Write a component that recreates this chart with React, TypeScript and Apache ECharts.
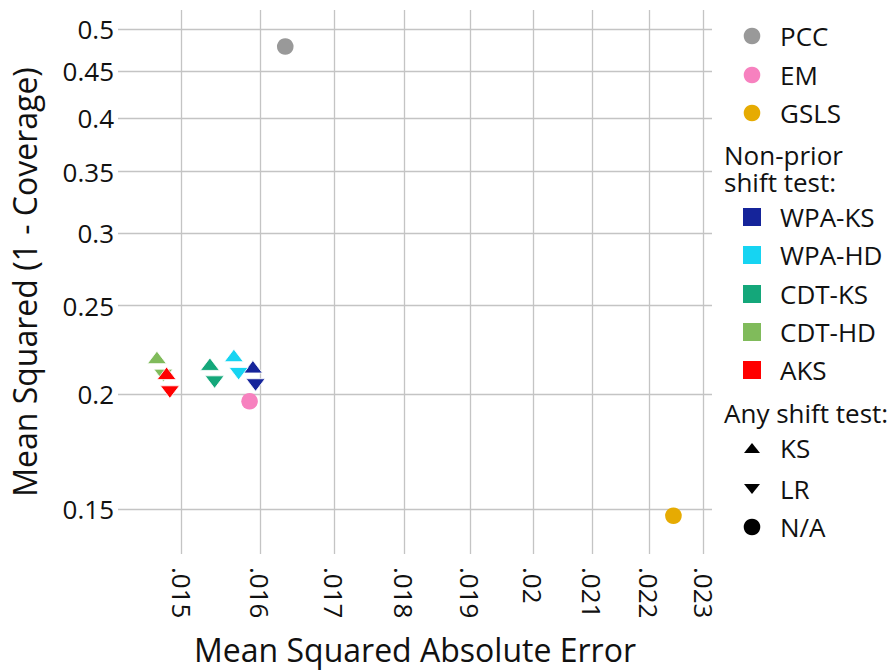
import { useEffect, useRef } from 'react';
import * as echarts from 'echarts';

// Baseline quantifiers (no shift test)
const baselineNames = ['PCC', 'EM', 'GSLS'];
const baselineColors = ['#999999', '#f781bf', '#e6ab02'];
const baselineMSAE = [0.01633, 0.01586, 0.02244];
const baselineMSC = [0.479, 0.1966, 0.1475];

// Non-prior shift tests, each paired with an "any shift" test (KS or LR)
const testNames = ['WPA-KS', 'WPA-HD', 'CDT-KS', 'CDT-HD', 'AKS'];
const testColors = ['#15249a', '#16d4f2', '#14a77a', '#80bb5b', '#ff0000'];
const ksMSAE = [0.015903, 0.015657, 0.015353, 0.014701, 0.014818];
const ksMSC = [0.2144, 0.2206, 0.2158, 0.2195, 0.2109];
const lrMSAE = [0.015938, 0.015718, 0.015412, 0.014778, 0.014858];
const lrMSC = [0.2048, 0.2107, 0.2063, 0.2098, 0.2012];

const shiftTestNames = ['KS', 'LR', 'N/A'];

// Axis ticks (both axes are logarithmic)
const xTickValues = [0.015, 0.016, 0.017, 0.018, 0.019, 0.02, 0.021, 0.022, 0.023];
const xTickLabels = ['.015', '.016', '.017', '.018', '.019', '.02', '.021', '.022', '.023'];
const yTickValues = [0.15, 0.2, 0.25, 0.3, 0.35, 0.4, 0.45, 0.5];
const yTickLabels = ['0.15', '0.2', '0.25', '0.3', '0.35', '0.4', '0.45', '0.5'];
const xRange = [0.01424, 0.02316];
const yRange = [0.134, 0.525];

const FONT = '"Open Sans", "Noto Sans", sans-serif';
const TEXT = '#111111';
const GRID = '#c4c4c4';
const DOWN_TRIANGLE = 'path://M0,0L20,0L10,13Z';

const ln = Math.log;

function nearestLabel(v: number, ticks: number[], labels: string[]) {
  let best = 0;
  for (let i = 1; i < ticks.length; i++) {
    if (Math.abs(ln(ticks[i]) - v) < Math.abs(ln(ticks[best]) - v)) best = i;
  }
  return labels[best];
}

function buildLegend() {
  const elements: any[] = [];
  const symX = 752;
  const textX = 780;
  const headX = 724;
  const label = (text: string, x: number, y: number, extra: any = {}) => ({
    type: 'text',
    x,
    y,
    style: {
      text,
      fill: TEXT,
      fontSize: 26,
      fontFamily: FONT,
      verticalAlign: 'middle',
      align: 'left',
      ...extra,
    },
  });
  const rowsA = [36, 75, 113];
  baselineNames.forEach((name, i) => {
    elements.push({ type: 'circle', shape: { cx: symX, cy: rowsA[i], r: 8.3 }, style: { fill: baselineColors[i] } });
    elements.push(label(name, textX, rowsA[i]));
  });
  elements.push(label('Non-prior\nshift test:', headX, 168.5, { lineHeight: 27 }));
  const rowsB = [217, 255, 294, 332, 370];
  testNames.forEach((name, i) => {
    elements.push({ type: 'rect', shape: { x: symX - 9, y: rowsB[i] - 9, width: 18, height: 18 }, style: { fill: testColors[i] } });
    elements.push(label(name, textX, rowsB[i]));
  });
  elements.push(label('Any shift test:', headX, 413));
  const rowsC = [448, 489, 527];
  elements.push({
    type: 'polygon',
    shape: { points: [[symX - 8, rowsC[0] + 5], [symX + 8, rowsC[0] + 5], [symX, rowsC[0] - 5]] },
    style: { fill: '#000' },
  });
  elements.push({
    type: 'polygon',
    shape: { points: [[symX - 8, rowsC[1] - 5], [symX + 8, rowsC[1] - 5], [symX, rowsC[1] + 5]] },
    style: { fill: '#000' },
  });
  elements.push({ type: 'circle', shape: { cx: symX, cy: rowsC[2], r: 8.3 }, style: { fill: '#000' } });
  shiftTestNames.forEach((name, i) => elements.push(label(name, textX, rowsC[i])));
  return elements;
}

export default function App() {
  const ref = useRef<HTMLDivElement>(null);

  useEffect(() => {
    if (!ref.current) return;
    const chart = echarts.init(ref.current, null, { renderer: 'svg' });

    const series: any[] = [];
    baselineNames.forEach((name, i) => {
      series.push({
        type: 'scatter',
        name,
        symbol: 'circle',
        symbolSize: 16.6,
        itemStyle: { color: baselineColors[i], opacity: 1 },
        data: [[ln(baselineMSAE[i]), ln(baselineMSC[i])]],
      });
    });
    testNames.forEach((name, i) => {
      series.push({
        type: 'scatter',
        name,
        itemStyle: { color: testColors[i], opacity: 1, borderColor: '#ffffff', borderWidth: 0.8 },
        data: [
          { value: [ln(ksMSAE[i]), ln(ksMSC[i])], symbol: 'triangle', symbolSize: [19, 12.5] },
          { value: [ln(lrMSAE[i]), ln(lrMSC[i])], symbol: DOWN_TRIANGLE, symbolSize: [19, 12.5] },
        ],
      });
    });

    chart.setOption({
      animation: false,
      backgroundColor: '#ffffff',
      grid: { left: 117, right: 181, top: 10, bottom: 114, containLabel: false },
      xAxis: {
        type: 'value',
        min: ln(xRange[0]),
        max: ln(xRange[1]),
        name: 'Mean Squared Absolute Error',
        nameLocation: 'middle',
        nameGap: 79,
        nameTextStyle: { fontSize: 32, fontFamily: FONT, color: TEXT },
        axisLine: { show: false },
        axisTick: { show: false, customValues: xTickValues.map(ln) },
        axisLabel: {
          customValues: xTickValues.map(ln),
          rotate: -90,
          margin: 13,
          fontSize: 26,
          fontFamily: FONT,
          color: TEXT,
          formatter: (v: number) => nearestLabel(v, xTickValues, xTickLabels),
        },
        splitLine: { show: true, lineStyle: { color: GRID, width: 1.3 } },
      },
      yAxis: {
        type: 'value',
        min: ln(yRange[0]),
        max: ln(yRange[1]),
        name: 'Mean Squared (1 - Coverage)',
        nameLocation: 'middle',
        nameGap: 78,
        nameTextStyle: { fontSize: 32, fontFamily: FONT, color: TEXT },
        axisLine: { show: false },
        axisTick: { show: false, customValues: yTickValues.map(ln) },
        axisLabel: {
          customValues: yTickValues.map(ln),
          margin: 4,
          fontSize: 26,
          fontFamily: FONT,
          color: TEXT,
          formatter: (v: number) => nearestLabel(v, yTickValues, yTickLabels),
        },
        splitLine: { show: true, lineStyle: { color: GRID, width: 1.3 } },
      },
      graphic: buildLegend(),
      series,
    });

    return () => chart.dispose();
  }, []);

  return (
    <div
      ref={ref}
      style={{ position: 'fixed', left: 0, top: 0, width: 893, height: 670, background: '#fff' }}
    />
  );
}
